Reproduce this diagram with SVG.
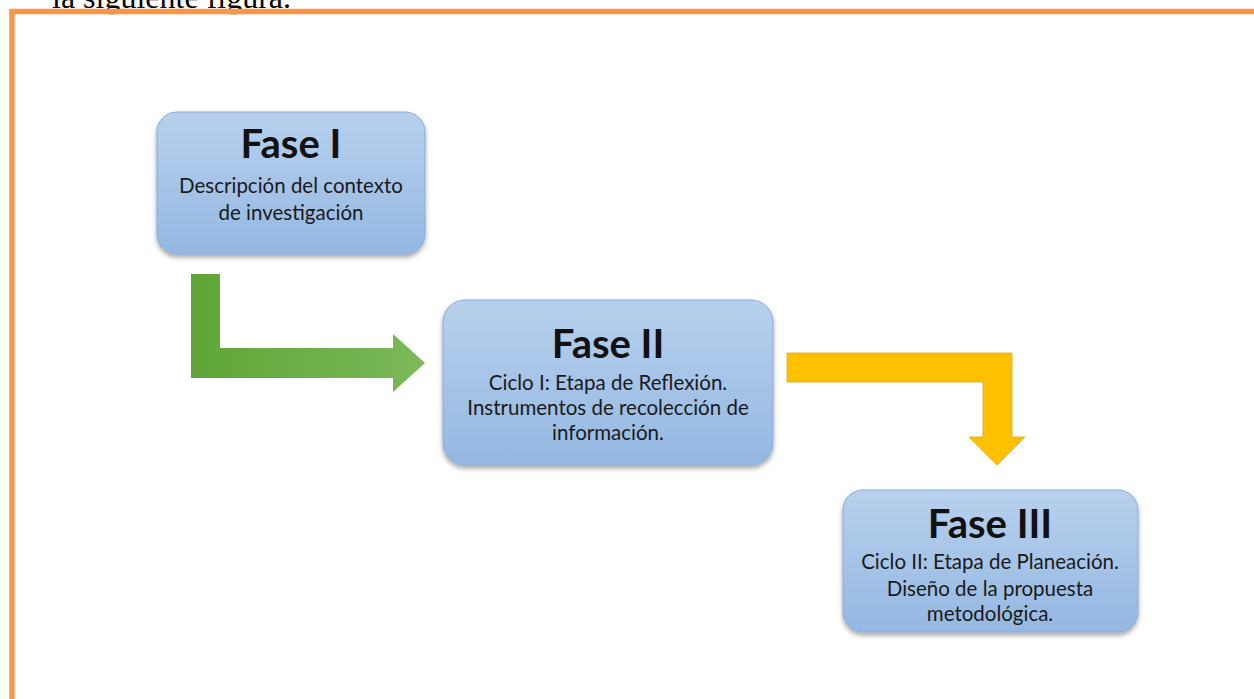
<svg xmlns="http://www.w3.org/2000/svg" width="1254" height="699" viewBox="0 0 1254 699">
<defs>
  <linearGradient id="boxg" x1="0" y1="0" x2="0" y2="1">
    <stop offset="0" stop-color="#b8d0ed"/>
    <stop offset="1" stop-color="#94b8e2"/>
  </linearGradient>
  <linearGradient id="greeng" x1="0" y1="0" x2="1" y2="0">
    <stop offset="0" stop-color="#5fa536"/>
    <stop offset="1" stop-color="#7cb95a"/>
  </linearGradient>
  <filter id="sh" x="-10%" y="-10%" width="120%" height="130%">
    <feGaussianBlur in="SourceAlpha" stdDeviation="2.5"/>
    <feOffset dx="0" dy="3" result="b"/>
    <feComponentTransfer><feFuncA type="linear" slope="0.35"/></feComponentTransfer>
    <feMerge><feMergeNode/><feMergeNode in="SourceGraphic"/></feMerge>
  </filter>
</defs>
<style>
  .box { fill: url(#boxg); stroke: #87abd8; stroke-width: 1; filter: url(#sh); }
  .title { font-family: "Lato", "Open Sans", sans-serif; font-weight: bold; font-size: 40px; fill: #111; text-anchor: middle; }
  .sub { font-family: "Lato", "Open Sans", sans-serif; font-size: 20.5px; fill: #1a1a1a; text-anchor: middle; }
  .hdr { font-family: "Liberation Serif", serif; font-size: 32px; fill: #000; }
</style>
<rect width="1254" height="699" fill="#ffffff"/>
<text class="hdr" x="52" y="8">la siguiente figura.</text>
<path d="M12,699 V11.5 H1254" fill="none" stroke="#f79646" stroke-width="5.5"/>
<path d="M15.2,699 V14.7 H1254" fill="none" stroke="#fde0c8" stroke-width="1"/>

<g id="connectors">
  <path id="arrow-green" d="M191,274 H220 V348 H393 V334 L425,363 L393,392 V378 H191 Z" fill="url(#greeng)"/>
  <path id="arrow-yellow" d="M787,353 H1012 V437 H1025 L997,465 L969,437 H983 V382 H787 Z" fill="#ffc000" stroke="#e0a800" stroke-width="0.8"/>
</g>

<g id="fase1">
  <rect class="box" x="157" y="112" width="268" height="142" rx="20"/>
  <text class="title" x="291" y="158">Fase I</text>
  <text class="sub" x="291" y="193">Descripción del contexto</text>
  <text class="sub" x="291" y="220">de investigación</text>
</g>
<g id="fase2">
  <rect class="box" x="443" y="300" width="330" height="165" rx="22"/>
  <text class="title" x="608" y="358">Fase II</text>
  <text class="sub" x="608" y="390">Ciclo I: Etapa de Reflexión.</text>
  <text class="sub" x="608" y="415">Instrumentos de recolección de</text>
  <text class="sub" x="608" y="440">información.</text>
</g>
<g id="fase3">
  <rect class="box" x="843" y="490" width="295" height="142" rx="20"/>
  <text class="title" x="990" y="538">Fase III</text>
  <text class="sub" x="990" y="569">Ciclo II: Etapa de Planeación.</text>
  <text class="sub" x="990" y="596">Diseño de la propuesta</text>
  <text class="sub" x="990" y="621">metodológica.</text>
</g>
</svg>
